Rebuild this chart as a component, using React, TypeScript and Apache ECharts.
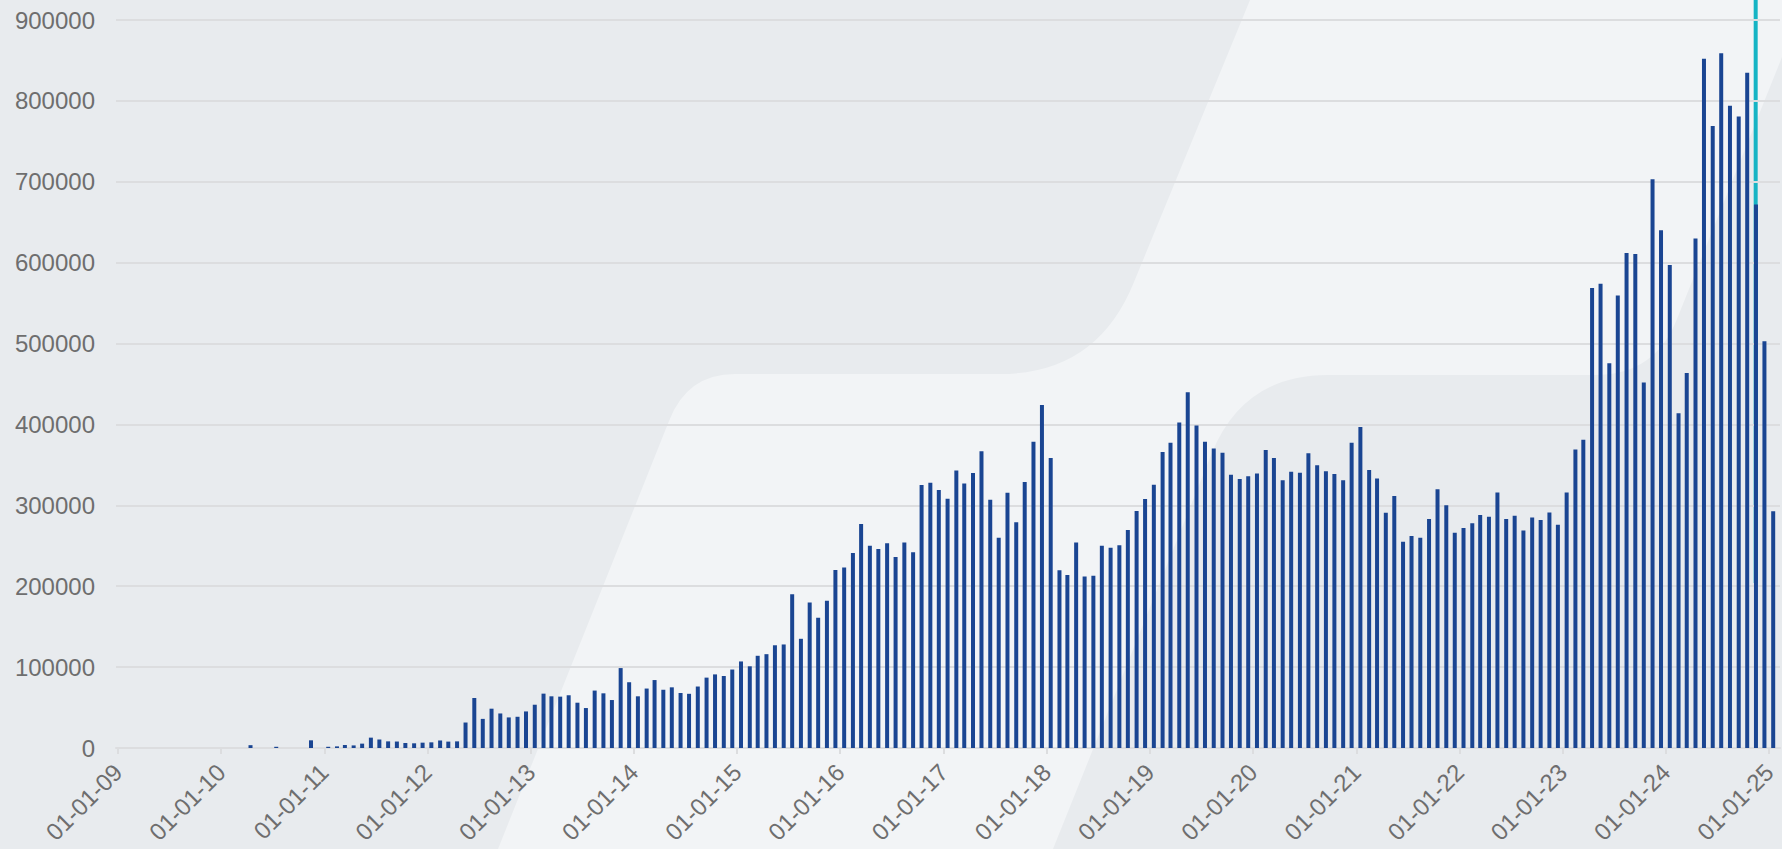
import React, { useEffect, useRef } from 'react';
import * as echarts from 'echarts';

// ---- data (monthly values, bar drawn at mid-month) ----
const v2010 = [0, 0, 0, 3500, 0, 0, 1500, 0, 0, 0, 9500, 0];
const v2011 = [1500, 2000, 3700, 3200, 5400, 12800, 10500, 8200, 8000, 6200, 5800, 6600];
const v2012 = [7000, 9300, 7900, 8200, 31500, 61800, 36000, 48600, 42700, 37800, 38600, 45200];
const v2013 = [53500, 67200, 63900, 63500, 65200, 56000, 49400, 71000, 67600, 59300, 98800, 81300];
const v2014 = [63900, 73500, 84000, 72000, 75000, 68000, 67000, 76000, 87000, 91000, 89000, 97000];
const v2015 = [107000, 101000, 114000, 116000, 127000, 128000, 190000, 135000, 180000, 161000, 182000, 220000];
const v2016 = [223000, 241000, 277000, 250000, 246000, 253000, 236000, 254000, 242000, 325000, 328000, 319000];
const v2017 = [308000, 343000, 327000, 340000, 367000, 307000, 260000, 315600, 279000, 329000, 378700, 424000];
const v2018 = [358500, 219600, 213800, 254000, 212000, 213000, 250000, 247600, 250500, 269500, 293000, 307800];
const v2019 = [325500, 365900, 377400, 402500, 439700, 398800, 378700, 370400, 365000, 337800, 332500, 336000];
const v2020 = [339500, 368400, 358500, 331000, 341600, 340400, 364300, 349400, 342000, 338700, 331000, 377400];
const v2021 = [396800, 343600, 333300, 290900, 311500, 255000, 262000, 260000, 283000, 320000, 300000, 266000];
const v2022 = [272000, 278000, 288000, 286000, 316000, 283000, 287000, 269000, 285000, 282000, 291000, 276000];
const v2023 = [316000, 369000, 381000, 568600, 574000, 475500, 559500, 612000, 610600, 452000, 703000, 640000];
const v2024 = [597000, 413700, 463500, 630000, 852000, 769000, 859000, 794000, 780800, 834700, 672000, 502700];
const v2025 = [292600];

const yearly: [number, number[]][] = [
  [2010, v2010], [2011, v2011], [2012, v2012], [2013, v2013], [2014, v2014],
  [2015, v2015], [2016, v2016], [2017, v2017], [2018, v2018], [2019, v2019],
  [2020, v2020], [2021, v2021], [2022, v2022], [2023, v2023], [2024, v2024],
  [2025, v2025],
];

const AXIS_MIN = '2009-01-01';
const AXIS_MAX = '2025-02-01';
const Y_MAX = 900000;
const Y_STEP = 100000;

// current-period marker (cyan)
const MARK_DATE = '2024-11-14';
const MARK_FROM = 204000;
const MARK_TO = 925000;

const pad = (n: number) => (n < 10 ? '0' + n : '' + n);

const barData: [string, number][] = [];
yearly.forEach(([y, arr]) => {
  arr.forEach((v, i) => {
    barData.push([`${y}-${pad(i + 1)}-15`, v]);
  });
});

// ---- decorative background shapes ----
const SHAPE_A =
  'M0 0 L1250 0 L1134 282 Q1097 374 1000 374 L735 374 Q687 374 669 421 L498 849 L0 849 Z';
const SHAPE_B =
  'M1782 57 L1677 319 Q1655 375 1595 375 L1328 375 Q1243 375 1211.5 454 L1053 849 L1782 849 Z';

echarts.graphic.registerShape('bgShapeA', echarts.graphic.extendPath(SHAPE_A, {}) as any);
echarts.graphic.registerShape('bgShapeB', echarts.graphic.extendPath(SHAPE_B, {}) as any);

const FONT = "'Liberation Sans', Arial, Helvetica, sans-serif";
const LABEL_COLOR = '#6e6e6e';
const LINE_COLOR = '#dcdddf';

export default function App() {
  const ref = useRef<HTMLDivElement>(null);
  useEffect(() => {
    const chart = echarts.init(ref.current!, null, { renderer: 'svg' });
    const option: any = {
      animation: false,
      backgroundColor: '#f2f4f6',
      textStyle: { fontFamily: FONT },
      graphic: {
        elements: [
          { type: 'bgShapeA', x: 0, y: 0, z: -100, silent: true, style: { fill: '#e8ebee' } },
          { type: 'bgShapeB', x: 0, y: 0, z: -100, silent: true, style: { fill: '#e8ebee' } },
        ],
      },
      grid: { left: 116, right: 2, top: 20, bottom: 101, containLabel: false },
      xAxis: {
        type: 'time',
        min: AXIS_MIN,
        max: AXIS_MAX,
        splitNumber: 16,
        minInterval: 365 * 86400000,
        maxInterval: 366 * 86400000,
        axisLine: { show: true, lineStyle: { color: LINE_COLOR, width: 2 } },
        axisTick: { show: true, length: 6, lineStyle: { color: LINE_COLOR, width: 2 } },
        splitLine: { show: false },
        axisLabel: {
          rotate: 45,
          margin: 20,
          fontSize: 24,
          fontFamily: FONT,
          color: LABEL_COLOR,
          hideOverlap: false,
          formatter: (val: number) => {
            const d = new Date(val);
            if (d.getMonth() !== 0 || d.getDate() !== 1) return '';
            return `${pad(d.getMonth() + 1)}-${pad(d.getDate())}-${pad(d.getFullYear() % 100)}`;
          },
        },
      },
      yAxis: {
        type: 'value',
        min: 0,
        max: Y_MAX,
        interval: Y_STEP,
        axisLine: { show: false },
        axisTick: { show: false },
        splitLine: { show: true, lineStyle: { color: LINE_COLOR, width: 2 } },
        axisLabel: {
          fontSize: 24,
          fontFamily: FONT,
          color: LABEL_COLOR,
          margin: 21,
          formatter: (v: number) => String(v),
        },
      },
      series: [
        {
          type: 'custom',
          z: -1,
          clip: false,
          silent: true,
          data: [[MARK_DATE, MARK_FROM, MARK_TO]],
          encode: { x: 0, y: [1, 2] },
          renderItem: (params: any, api: any) => {
            const p0 = api.coord([api.value(0), api.value(1)]);
            const p1 = api.coord([api.value(0), api.value(2)]);
            return {
              type: 'rect',
              shape: { x: p0[0] - 2, y: p1[1], width: 4, height: p0[1] - p1[1] },
              style: { fill: '#16b4c4' },
            };
          },
        },
        {
          type: 'bar',
          data: barData,
          barWidth: 4,
          itemStyle: { color: '#1a4592' },
        },
      ],
    };
    chart.setOption(option);
    return () => chart.dispose();
  }, []);
  return (
    <div
      ref={ref}
      style={{ position: 'fixed', left: 0, top: 0, width: 1782, height: 849 }}
    />
  );
}
